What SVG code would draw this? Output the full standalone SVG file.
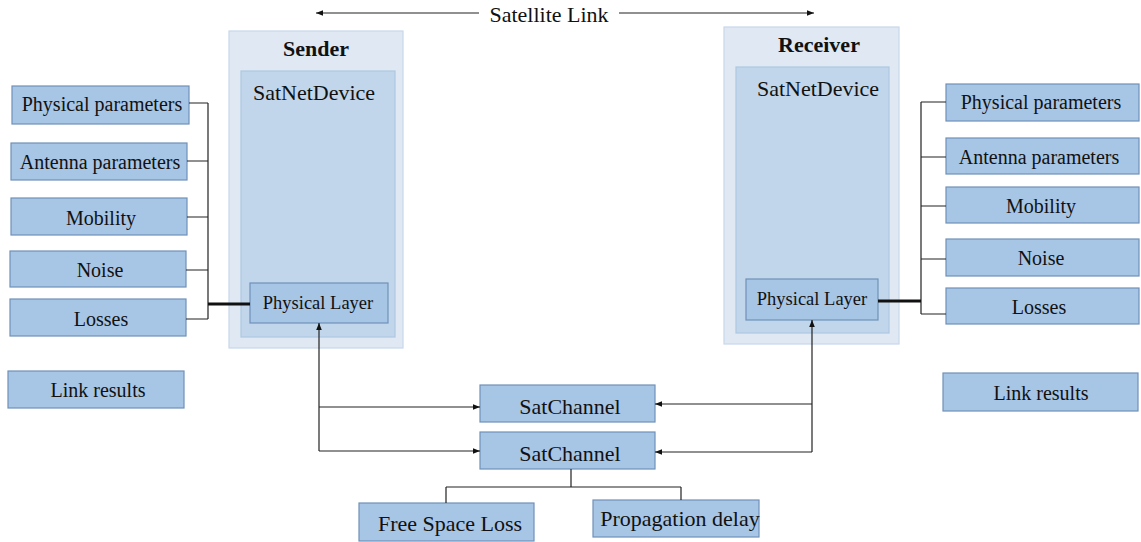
<svg xmlns="http://www.w3.org/2000/svg" width="1141" height="542" viewBox="0 0 1141 542">
<defs>
<style>
text{font-family:"Liberation Serif","Times New Roman",serif;fill:#111;text-anchor:middle;dominant-baseline:central}
.box{fill:#a7c5e5;stroke:#6f91b8;stroke-width:1.2}
.outer{fill:#dfe8f3;stroke:#c6d8ec;stroke-width:1.2}
.inner{fill:#c1d6ea;stroke:#aec8e3;stroke-width:1.2}
.ln{fill:none;stroke:#222;stroke-width:1.2}
.thick{fill:none;stroke:#111;stroke-width:3}
.t20{font-size:20px}
.t22{font-size:22px}
.t18{font-size:18.5px}
.b{font-weight:bold;font-size:22px}
</style>
<marker id="ah" viewBox="0 0 10 10" refX="10" refY="5" markerWidth="7" markerHeight="7" markerUnits="userSpaceOnUse" orient="auto-start-reverse">
<path d="M0,1 L10,5 L0,9 z" fill="#111"/>
</marker>
</defs>

<g id="satellite-link">
<text x="549" y="14" class="t22">Satellite Link</text>
</g>

<g id="sender">
<rect class="outer" x="229" y="31" width="174" height="317"/>
<text x="316" y="48" class="b">Sender</text>
<rect class="inner" x="241" y="71" width="154" height="266"/>
<text x="314" y="92" class="t22">SatNetDevice</text>
</g>
<g id="sender-phy">
<rect class="box" x="250" y="283" width="138" height="40"/>
<text x="318" y="303" class="t18">Physical Layer</text>
</g>

<g id="receiver">
<rect class="outer" x="724" y="27" width="175" height="317"/>
<text x="819" y="44" class="b">Receiver</text>
<rect class="inner" x="736" y="67" width="153" height="266"/>
<text x="818" y="88" class="t22">SatNetDevice</text>
</g>
<g id="receiver-phy">
<rect class="box" x="746" y="279" width="132" height="41"/>
<text x="812" y="299" class="t18">Physical Layer</text>
</g>

<g id="l-phys"><rect class="box" x="12" y="86" width="177" height="38"/><text x="102" y="104" class="t20">Physical parameters</text></g>
<g id="l-ant"><rect class="box" x="11" y="143" width="176" height="37"/><text x="100" y="162" class="t20">Antenna parameters</text></g>
<g id="l-mob"><rect class="box" x="11" y="198" width="176" height="37"/><text x="101" y="218" class="t20">Mobility</text></g>
<g id="l-noise"><rect class="box" x="10" y="251" width="176" height="36"/><text x="100" y="270" class="t20">Noise</text></g>
<g id="l-loss"><rect class="box" x="10" y="299" width="176" height="37"/><text x="101" y="319" class="t20">Losses</text></g>
<g id="l-link"><rect class="box" x="8" y="371" width="176" height="37"/><text x="98" y="390" class="t20">Link results</text></g>

<g id="r-phys"><rect class="box" x="946" y="84" width="193" height="37"/><text x="1041" y="102" class="t20">Physical parameters</text></g>
<g id="r-ant"><rect class="box" x="946" y="138" width="193" height="36"/><text x="1039" y="157" class="t20">Antenna parameters</text></g>
<g id="r-mob"><rect class="box" x="946" y="187" width="193" height="36"/><text x="1041" y="206" class="t20">Mobility</text></g>
<g id="r-noise"><rect class="box" x="946" y="239" width="193" height="37"/><text x="1041" y="258" class="t20">Noise</text></g>
<g id="r-loss"><rect class="box" x="946" y="288" width="193" height="36"/><text x="1039" y="307" class="t20">Losses</text></g>
<g id="r-link"><rect class="box" x="943" y="373" width="195" height="38"/><text x="1041" y="393" class="t20">Link results</text></g>

<g id="satchannel-1"><rect class="box" x="480" y="385" width="175" height="37"/><text x="570" y="406" class="t22">SatChannel</text></g>
<g id="satchannel-2"><rect class="box" x="480" y="432" width="175" height="37"/><text x="570" y="453" class="t22">SatChannel</text></g>
<g id="fsl"><rect class="box" x="359" y="503" width="175" height="38"/><text x="450" y="523" class="t22">Free Space Loss</text></g>
<g id="prop"><rect class="box" x="593" y="500" width="166" height="37"/><text x="680" y="518" class="t22">Propagation delay</text></g>

<g id="connectors">
<line class="ln" x1="479" y1="13" x2="316" y2="13" marker-end="url(#ah)"/>
<line class="ln" x1="619" y1="13" x2="814" y2="13" marker-end="url(#ah)"/>
<path class="ln" d="M189,103 H208 M187,161 H208 M187,217 H208 M186,270 H208 M186,319 H208 M208,103 V319"/>
<line class="thick" x1="208" y1="304" x2="250" y2="304"/>
<path class="ln" d="M946,102 H921 M946,157 H921 M946,206 H921 M946,259 H921 M946,314 H921 M921,102 V314"/>
<line class="thick" x1="878" y1="301" x2="921" y2="301"/>
<line class="ln" x1="319" y1="451" x2="319" y2="323" marker-end="url(#ah)"/>
<line class="ln" x1="319" y1="407" x2="480" y2="407" marker-end="url(#ah)"/>
<line class="ln" x1="319" y1="451" x2="480" y2="451" marker-end="url(#ah)"/>
<line class="ln" x1="812" y1="452" x2="812" y2="320" marker-end="url(#ah)"/>
<line class="ln" x1="812" y1="404" x2="655" y2="404" marker-end="url(#ah)"/>
<line class="ln" x1="812" y1="452" x2="655" y2="452" marker-end="url(#ah)"/>
<path class="ln" d="M571,469 V487 M446,487 H681 M446,487 V503 M681,487 V500"/>
</g>
</svg>
